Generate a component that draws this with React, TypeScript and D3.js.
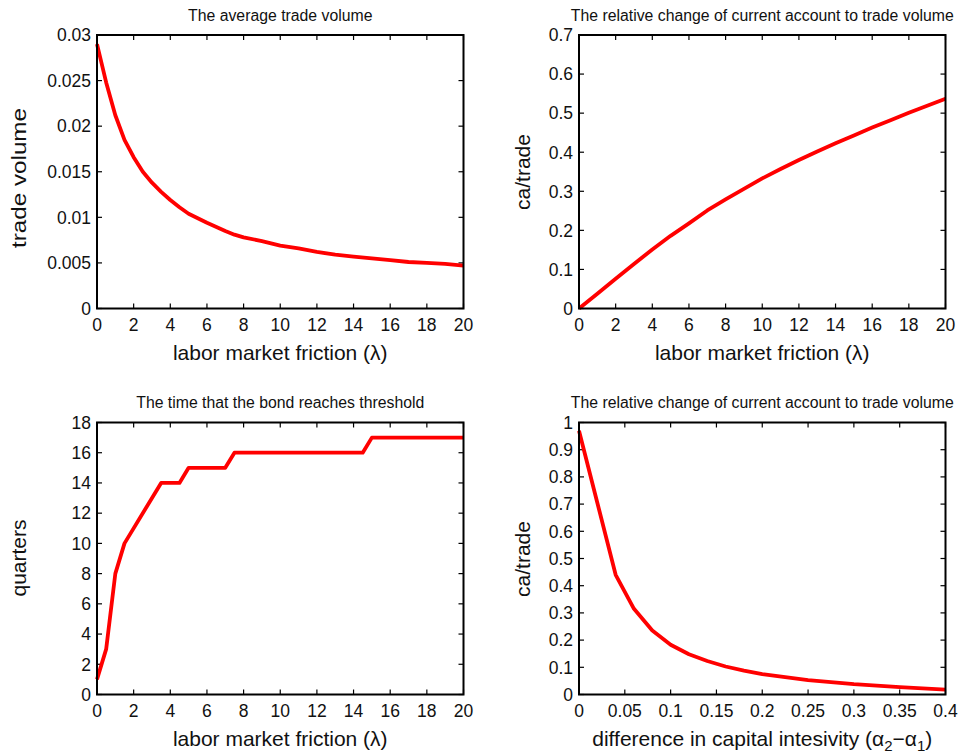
import React, { useEffect, useRef } from 'react';
import * as d3 from 'd3';

// panel 1: average trade volume vs labor market friction
const lambda1 = [0, 0.5, 1, 1.5, 2, 2.5, 3, 3.5, 4, 4.5, 5, 6, 7, 7.5, 8, 9, 10, 11, 12, 13, 14, 15, 16, 17, 18, 19, 20];
const tradeVolume = [0.029, 0.0248, 0.0212, 0.0185, 0.0166, 0.015, 0.0138, 0.0128, 0.0119, 0.0111, 0.0104, 0.0094, 0.0085, 0.0081, 0.0078, 0.0074, 0.0069, 0.0066, 0.0062, 0.0059, 0.0057, 0.0055, 0.0053, 0.0051, 0.005, 0.0049, 0.0047];

// panel 2: ca/trade vs labor market friction
const lambda2 = [0, 1, 2, 3, 4, 5, 6, 7, 8, 9, 10, 11, 12, 13, 14, 15, 16, 17, 18, 19, 20];
const caTrade = [0, 0.038, 0.076, 0.114, 0.151, 0.186, 0.218, 0.251, 0.279, 0.306, 0.333, 0.357, 0.38, 0.402, 0.423, 0.443, 0.463, 0.482, 0.501, 0.519, 0.537];

// panel 3: quarters until bond reaches threshold
const lambda3 = [0, 0.5, 1, 1.5, 3.5, 4.5, 5, 7, 7.5, 14.5, 15, 20];
const quarters = [1, 3, 8, 10, 14, 14, 15, 15, 16, 16, 17, 17];

// panel 4: ca/trade vs difference in capital intensity
const alphaDiff = [0, 0.02, 0.04, 0.06, 0.08, 0.1, 0.12, 0.14, 0.16, 0.18, 0.2, 0.25, 0.3, 0.35, 0.4];
const caTrade2 = [0.97, 0.705, 0.44, 0.315, 0.235, 0.183, 0.148, 0.123, 0.103, 0.088, 0.075, 0.053, 0.038, 0.027, 0.018];

const lambdaTicks = [0, 2, 4, 6, 8, 10, 12, 14, 16, 18, 20];
const tradeTicks = [0, 0.005, 0.01, 0.015, 0.02, 0.025, 0.03];
const caTicks = [0, 0.1, 0.2, 0.3, 0.4, 0.5, 0.6, 0.7];
const quarterTicks = [0, 2, 4, 6, 8, 10, 12, 14, 16, 18];
const alphaTicks = [0, 0.05, 0.1, 0.15, 0.2, 0.25, 0.3, 0.35, 0.4];
const ca2Ticks = [0, 0.1, 0.2, 0.3, 0.4, 0.5, 0.6, 0.7, 0.8, 0.9, 1];

const FONT = '"Liberation Sans", Arial, Helvetica, sans-serif';
const fmt = (v: number) => String(+v.toFixed(3));

type Panel = {
  left: number; top: number; right: number; bottom: number;
  title: string; ylabel: string; xlabel: string | null;
  xs: number[]; ys: number[];
  xDomain: [number, number]; yDomain: [number, number];
  xTicks: number[]; yTicks: number[];
  ylabelX: number; ylabelY: number; ylabelLen?: number;
};

const panels: Panel[] = [
  { left: 97, top: 35, right: 463.5, bottom: 308.5, title: 'The average trade volume', ylabel: 'trade volume', xlabel: 'labor market friction (λ)', xs: lambda1, ys: tradeVolume, xDomain: [0, 20], yDomain: [0, 0.03], xTicks: lambdaTicks, yTicks: tradeTicks, ylabelX: 26, ylabelY: 178, ylabelLen: 140 },
  { left: 579, top: 35, right: 945.5, bottom: 308.5, title: 'The relative change of current account to trade volume', ylabel: 'ca/trade', xlabel: 'labor market friction (λ)', xs: lambda2, ys: caTrade, xDomain: [0, 20], yDomain: [0, 0.7], xTicks: lambdaTicks, yTicks: caTicks, ylabelX: 530, ylabelY: 172 },
  { left: 97, top: 422.5, right: 463.5, bottom: 694.5, title: 'The time that the bond reaches threshold', ylabel: 'quarters', xlabel: 'labor market friction (λ)', xs: lambda3, ys: quarters, xDomain: [0, 20], yDomain: [0, 18], xTicks: lambdaTicks, yTicks: quarterTicks, ylabelX: 26, ylabelY: 558 },
  { left: 579, top: 422.5, right: 945.5, bottom: 694.5, title: 'The relative change of current account to trade volume', ylabel: 'ca/trade', xlabel: null, xs: alphaDiff, ys: caTrade2, xDomain: [0, 0.4], yDomain: [0, 1], xTicks: alphaTicks, yTicks: ca2Ticks, ylabelX: 530, ylabelY: 559 },
];

export default function App() {
  const svgRef = useRef<SVGSVGElement>(null);

  useEffect(() => {
    const svgEl = svgRef.current;
    if (!svgEl) return;
    const svg = d3.select(svgEl);
    svg.selectAll('*').remove();

    panels.forEach(p => {
      const x = d3.scaleLinear().domain(p.xDomain).range([p.left, p.right]);
      const y = d3.scaleLinear().domain(p.yDomain).range([p.bottom, p.top]);
      const g = svg.append('g');

      // ticks pointing inward on all four sides
      const tl = 5;
      p.xTicks.forEach(t => {
        g.append('line').attr('x1', x(t)).attr('x2', x(t)).attr('y1', p.bottom).attr('y2', p.bottom - tl).attr('stroke', '#000').attr('stroke-width', 1.2);
        g.append('line').attr('x1', x(t)).attr('x2', x(t)).attr('y1', p.top).attr('y2', p.top + tl).attr('stroke', '#000').attr('stroke-width', 1.2);
        g.append('text').attr('x', x(t)).attr('y', p.bottom + 22).attr('text-anchor', 'middle')
          .attr('font-size', 17.5).attr('font-family', FONT).attr('fill', '#111').text(fmt(t));
      });
      p.yTicks.forEach(t => {
        g.append('line').attr('x1', p.left).attr('x2', p.left + tl).attr('y1', y(t)).attr('y2', y(t)).attr('stroke', '#000').attr('stroke-width', 1.2);
        g.append('line').attr('x1', p.right).attr('x2', p.right - tl).attr('y1', y(t)).attr('y2', y(t)).attr('stroke', '#000').attr('stroke-width', 1.2);
        g.append('text').attr('x', p.left - 6).attr('y', y(t)).attr('dy', '0.36em').attr('text-anchor', 'end')
          .attr('font-size', 17.5).attr('font-family', FONT).attr('fill', '#111').text(fmt(t));
      });

      // data line
      const line = d3.line<number>()
        .x((_, i) => x(p.xs[i]))
        .y(d => y(d));
      g.append('path')
        .datum(p.ys)
        .attr('d', line)
        .attr('fill', 'none')
        .attr('stroke', '#ff0000')
        .attr('stroke-width', 3.8)
        .attr('stroke-linejoin', 'round');

      // frame
      g.append('rect')
        .attr('x', p.left).attr('y', p.top)
        .attr('width', p.right - p.left).attr('height', p.bottom - p.top)
        .attr('fill', 'none').attr('stroke', '#000').attr('stroke-width', 2);

      // title
      g.append('text')
        .attr('x', (p.left + p.right) / 2).attr('y', p.top - 14.5)
        .attr('text-anchor', 'middle').attr('font-size', 15.8).attr('font-family', FONT).attr('fill', '#111')
        .text(p.title);

      // y label
      const yl = g.append('text')
        .attr('transform', `translate(${p.ylabelX},${p.ylabelY}) rotate(-90)`)
        .attr('text-anchor', 'middle').attr('font-size', 21).attr('font-family', FONT).attr('fill', '#111')
        .text(p.ylabel);
      if (p.ylabelLen) yl.attr('textLength', p.ylabelLen).attr('lengthAdjust', 'spacingAndGlyphs');

      // x label
      const xl = g.append('text')
        .attr('x', (p.left + p.right) / 2).attr('y', p.bottom + 51)
        .attr('text-anchor', 'middle').attr('font-size', 21).attr('font-family', FONT).attr('fill', '#111');
      if (p.xlabel) {
        xl.text(p.xlabel);
      } else {
        xl.append('tspan').text('difference in capital intesivity (α');
        xl.append('tspan').attr('font-size', 15).attr('dy', 5).text('2');
        xl.append('tspan').attr('dy', -5).text('−α');
        xl.append('tspan').attr('font-size', 15).attr('dy', 5).text('1');
        xl.append('tspan').attr('dy', -5).text(')');
      }
    });
  }, []);

  return (
    <svg
      ref={svgRef}
      width={962}
      height={753}
      style={{ position: 'absolute', left: 0, top: 0, background: '#fff', display: 'block' }}
    />
  );
}
